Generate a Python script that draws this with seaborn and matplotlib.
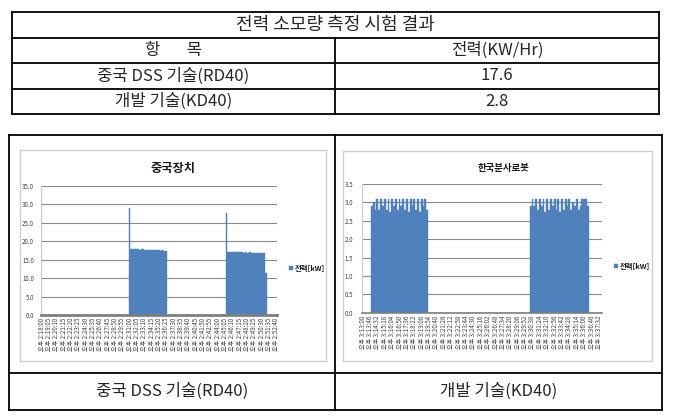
import numpy as np
import matplotlib
matplotlib.use("Agg")
import matplotlib.pyplot as plt
import seaborn as sns

# ---- table contents ----
TABLE_TITLE = "전력 소모량 측정 시험 결과"
HEADER = ["항       목", "전력(KW/Hr)"]
ITEMS = ["중국 DSS 기술(RD40)", "개발 기술(KD40)"]
POWER_KWH = ["17.6", "2.8"]

# ---- chart 1: 중국장치 (one reading every 13 s, labels every 65 s) ----
RD40_TITLE = "중국장치"
RD40_KW = (
    [0.0] * 60
    + [29.0, 17.9, 17.8, 17.9, 17.8, 17.8, 17.9, 17.7, 17.8, 18.0, 17.7, 17.7, 17.6,
       17.7, 17.6, 17.6, 17.5, 17.6, 17.5, 17.5, 17.6, 17.4, 17.5, 17.4, 17.4, 17.4]
    + [0.0] * 40
    + [27.6, 17.0, 17.1, 17.0, 17.1, 17.1, 17.0, 17.1, 17.0, 17.0, 17.1, 17.0, 16.9, 17.0,
       16.9, 16.9, 17.0, 16.9, 16.8, 16.9, 16.8, 16.8, 16.9, 16.8, 16.8, 16.7, 16.8, 11.3]
    + [0.0] * 7
)
RD40_TIMES = ["오후 2:18:00", "오후 2:19:05", "오후 2:20:10", "오후 2:21:15", "오후 2:22:20",
              "오후 2:23:25", "오후 2:24:30", "오후 2:25:35", "오후 2:26:40", "오후 2:27:45",
              "오후 2:28:50", "오후 2:29:55", "오후 2:31:00", "오후 2:32:05", "오후 2:33:10",
              "오후 2:34:15", "오후 2:35:20", "오후 2:36:25", "오후 2:37:30", "오후 2:38:35",
              "오후 2:39:40", "오후 2:40:45", "오후 2:41:50", "오후 2:42:55", "오후 2:44:00",
              "오후 2:45:05", "오후 2:46:10", "오후 2:47:15", "오후 2:48:20", "오후 2:49:25",
              "오후 2:50:30", "오후 2:51:35", "오후 2:52:40"]
RD40_YTICKS = [0, 5, 10, 15, 20, 25, 30, 35]

# ---- chart 2: 한국분사로봇 (one reading every 11.5 s, labels every 46 s) ----
KD40_TITLE = "한국분사로봇"
KD40_KW = (
    [0.0] * 5
    + [2.9, 3.0, 2.8, 3.1, 2.8, 3.1, 2.9, 3.1, 2.8, 3.1, 2.75, 3.1, 2.9, 3.1, 2.8, 3.1,
       2.9, 3.1, 2.8, 3.1, 2.75, 3.1, 2.9, 3.1, 2.8, 3.1, 2.75, 3.1, 2.9, 3.1, 2.8]
    + [0.0] * 55
    + [2.9, 3.1, 2.9, 3.1, 2.8, 3.1, 2.9, 3.1, 2.75, 3.1, 2.8, 3.1, 2.9, 3.1, 2.8, 3.1,
       2.75, 3.1, 2.8, 3.1, 2.9, 3.1, 2.8, 3.0, 2.9, 3.1, 2.8, 2.9, 3.1, 3.1, 3.1, 2.9]
    + [0.0] * 7
)
KD40_TIMES = ["오후 3:13:00", "오후 3:13:46", "오후 3:14:32", "오후 3:15:18", "오후 3:16:04",
              "오후 3:16:50", "오후 3:17:36", "오후 3:18:22", "오후 3:19:08", "오후 3:19:54",
              "오후 3:20:40", "오후 3:21:26", "오후 3:22:12", "오후 3:22:58", "오후 3:23:44",
              "오후 3:24:30", "오후 3:25:16", "오후 3:26:02", "오후 3:26:48", "오후 3:27:34",
              "오후 3:28:20", "오후 3:29:06", "오후 3:29:52", "오후 3:30:38", "오후 3:31:24",
              "오후 3:32:10", "오후 3:32:56", "오후 3:33:42", "오후 3:34:28", "오후 3:35:14",
              "오후 3:36:00", "오후 3:36:46", "오후 3:37:32"]
KD40_YTICKS = [0.0, 0.5, 1.0, 1.5, 2.0, 2.5, 3.0, 3.5]

SERIES_LABEL = "전력[kW]"
BAR_BLUE = "#4f81bd"

sns.set_theme(style="white")
plt.rcParams['font.family'] = ['Noto Sans CJK KR', 'DejaVu Sans']

W, H = 680, 419
fig = plt.figure(figsize=(W / 100, H / 100), dpi=100)
fig.patch.set_facecolor("white")

# background axes in pixel coordinates for the table frame
bg = fig.add_axes([0, 0, 1, 1])
bg.set_xlim(0, W)
bg.set_ylim(H, 0)
bg.axis("off")


def line(x0, y0, x1, y1, color="black", lw=1.3):
    bg.plot([x0, x1], [y0, y1], color=color, lw=lw, solid_capstyle="projecting")


# top table
tl, tr = 11.5, 659
rows = [12, 38, 63, 89, 114]
for y in rows:
    line(tl, y, tr, y)
line(tl, rows[0], tl, rows[-1])
line(tr, rows[0], tr, rows[-1])
line(335, rows[1], 335, rows[-1])

bg.text((tl + tr) / 2, (rows[0] + rows[1]) / 2, TABLE_TITLE, ha="center", va="center", fontsize=13)
left_c, right_c = (tl + 335) / 2, (335 + tr) / 2
bg.text(left_c, (rows[1] + rows[2]) / 2, HEADER[0], ha="center", va="center", fontsize=12)
bg.text(right_c, (rows[1] + rows[2]) / 2, HEADER[1], ha="center", va="center", fontsize=12)
for i, (item, val) in enumerate(zip(ITEMS, POWER_KWH)):
    yc = (rows[i + 2] + rows[i + 3]) / 2
    bg.text(left_c, yc, item, ha="center", va="center", fontsize=12)
    bg.text(right_c, yc, val, ha="center", va="center", fontsize=12)

# bottom table
bl, br = 9.3, 662
b_top, b_mid, b_bot = 135, 373, 410
for y in (b_top, b_mid, b_bot):
    line(bl, y, br, y)
line(bl, b_top, bl, b_bot)
line(br, b_top, br, b_bot)
line(335, b_top, 335, b_bot)
bg.text((bl + 335) / 2, (b_mid + b_bot) / 2, ITEMS[0], ha="center", va="center", fontsize=12)
bg.text((335 + br) / 2, (b_mid + b_bot) / 2, ITEMS[1], ha="center", va="center", fontsize=12)

# chart picture frames
for x0, y0, x1, y1 in [(20, 150, 326, 361), (343, 151, 652, 361)]:
    bg.add_patch(plt.Rectangle((x0, y0), x1 - x0, y1 - y0, fill=False,
                               edgecolor="#cfcfcf", lw=1.0))


def px_axes(left, right, top, bottom):
    return fig.add_axes([left / W, 1 - bottom / H, (right - left) / W, (bottom - top) / H])


def draw_chart(ax, values, times, step, yticks, ymax, fmt, title, title_xy, title_size,
               legend_xy, ypad, base_lw):
    n = len(values)
    sns.barplot(x=np.arange(n), y=values, color=BAR_BLUE, saturation=1, width=1.0,
                edgecolor=BAR_BLUE, linewidth=0.3, label=SERIES_LABEL, ax=ax)
    ax.set_xlim(-0.5, n - 0.5)
    ax.set_ylim(0, ymax)
    ax.set_yticks(yticks)
    ax.set_yticklabels([fmt.format(v) for v in yticks])
    ax.set_xticks(np.arange(0, n, step)[:len(times)])
    ax.set_xticklabels(times, rotation=90)
    ax.tick_params(axis="x", length=0, pad=2, labelsize=4.4, labelcolor="#404040")
    ax.tick_params(axis="y", length=0, pad=ypad, labelsize=4.4, labelcolor="#404040")
    ax.set_xlabel("")
    ax.set_ylabel("")
    ax.set_axisbelow(True)
    ax.yaxis.grid(True, color="#8a8a8a", lw=0.8)
    ax.xaxis.grid(False)
    for s in ("top", "right"):
        ax.spines[s].set_visible(False)
    ax.spines["left"].set_color("#c8c8c8")
    ax.spines["left"].set_linewidth(0.8)
    ax.spines["bottom"].set_color("#7f7f7f")
    ax.spines["bottom"].set_linewidth(base_lw)
    ax.set_facecolor("white")
    fig.text(title_xy[0] / W, 1 - title_xy[1] / H, title, ha="center", va="center",
             fontsize=title_size, fontweight="bold", color="#1a1a1a")
    leg = ax.legend(loc="center left", bbox_to_anchor=(legend_xy[0] / W, 1 - legend_xy[1] / H),
                    bbox_transform=fig.transFigure, frameon=False, fontsize=5.3,
                    handlelength=0.55, handleheight=0.55, handletextpad=0.3, borderpad=0,
                    labelcolor="#1a1a1a")
    for t in leg.get_texts():
        t.set_fontweight("bold")


ax1 = px_axes(41, 277, 186, 315)
draw_chart(ax1, RD40_KW, RD40_TIMES, 5, RD40_YTICKS, 35, "{:.1f}", RD40_TITLE,
           (173, 168), 8.8, (285, 268), 5, 2.0)

ax2 = px_axes(361.7, 601.7, 184, 312.7)
draw_chart(ax2, KD40_KW, KD40_TIMES, 4, KD40_YTICKS, 3.5, "{:.1f}", KD40_TITLE,
           (503, 168), 6.8, (610, 266), 6, 1.2)

fig.savefig("out.png", dpi=100, facecolor="white")
